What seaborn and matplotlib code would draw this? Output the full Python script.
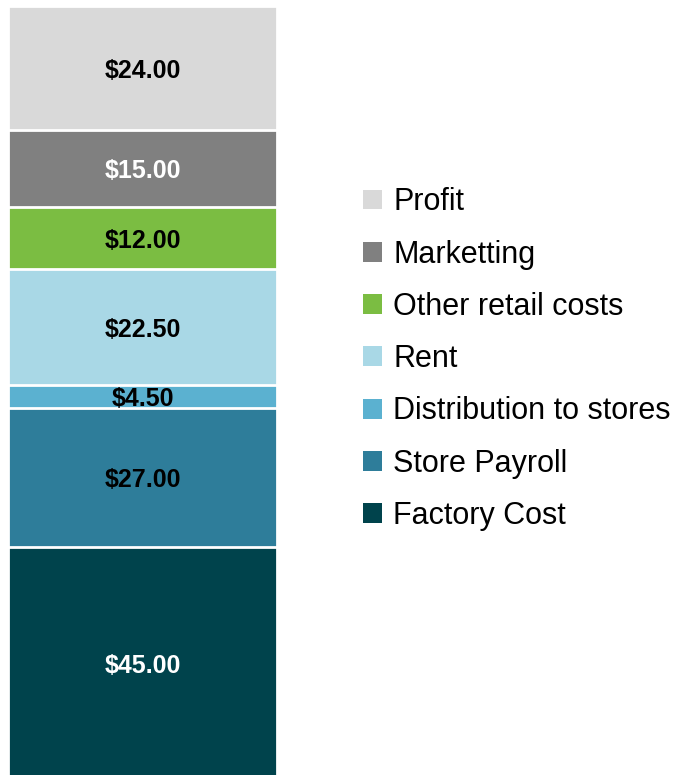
import matplotlib
matplotlib.use("Agg")
import matplotlib.pyplot as plt
from matplotlib.patches import Patch
from matplotlib import font_manager
import seaborn as sns
import pandas as pd
import numpy as np

categories = ["Factory Cost", "Store Payroll", "Distribution to stores", "Rent",
              "Other retail costs", "Marketting", "Profit"]
values = [45.0, 27.0, 4.5, 22.5, 12.0, 15.0, 24.0]
colors = ["#00434c", "#2e7d9a", "#5bb1d0", "#a9d8e6", "#7bbd42", "#808080", "#d9d9d9"]
label_colors = ["white", "black", "black", "black", "black", "white", "black"]

sns.set_style("white")
avail = {f.name for f in font_manager.fontManager.ttflist}
fam = "Liberation Sans Narrow" if "Liberation Sans Narrow" in avail else "Liberation Sans"
plt.rcParams["font.family"] = [fam, "DejaVu Sans"]

df = pd.DataFrame({"category": categories, "value": values, "color": colors})
df["top"] = df["value"].cumsum()
df["bottom"] = df["top"] - df["value"]
df["x"] = "Price"

W, H = 691, 775
fig = plt.figure(figsize=(W / 100, H / 100), dpi=100)
ax = fig.add_axes([8 / W, -4 / H, 269 / W, 773 / H])

# draw cumulative bars from tallest to shortest so they stack
for i in reversed(range(len(df))):
    sub = df.iloc[[i]]
    sns.barplot(data=sub, x="x", y="top", color=colors[i], width=1.0,
                edgecolor="white", linewidth=2, saturation=1, ax=ax)

ax.set_xlim(-0.5, 0.5)
ax.set_ylim(0, 150.0)
ax.axis("off")

for i, row in df.iterrows():
    ax.annotate(f"${row['value']:.2f}", xy=(0, (row["bottom"] + row["top"]) / 2),
                xytext=(0, -2), textcoords="offset points",
                ha="center", va="center", fontsize=18, fontweight="bold",
                color=label_colors[i])

handles = [Patch(facecolor=c, edgecolor="none") for c in colors]
leg = fig.legend(handles[::-1], categories[::-1], loc="upper left",
                 bbox_to_anchor=(351 / W, 1 - 175 / H), frameon=False,
                 fontsize=22, handlelength=0.62, handleheight=0.62,
                 handletextpad=0.36, labelspacing=0.73, borderaxespad=0)
for t in leg.get_texts():
    t.set_color("black")

fig.savefig("out.png", dpi=100)
